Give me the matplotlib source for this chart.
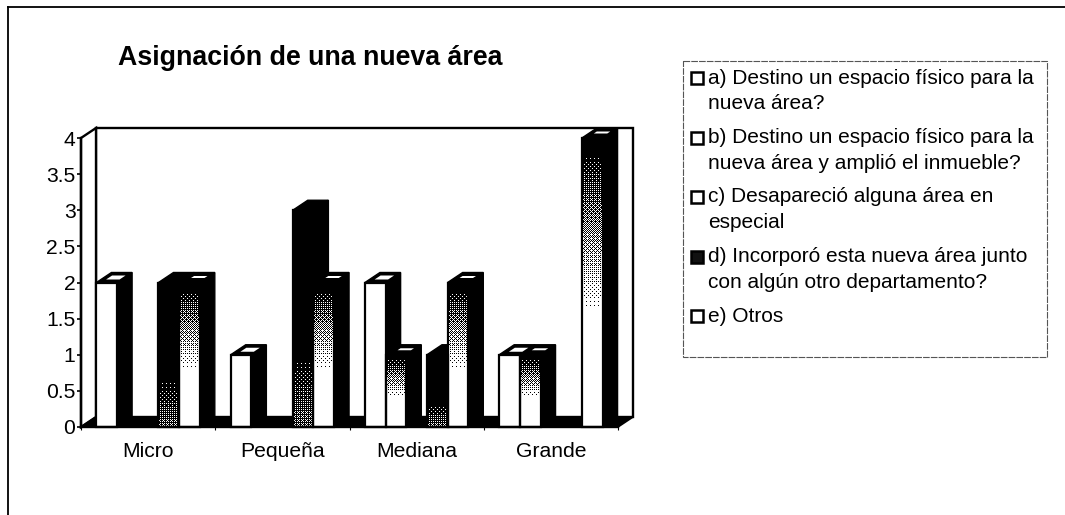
import numpy as np
import matplotlib
matplotlib.use("Agg")
import matplotlib.pyplot as plt
from matplotlib.patches import Polygon, Rectangle
from matplotlib.lines import Line2D

plt.rcParams['font.family'] = ['Liberation Sans', 'DejaVu Sans']

# ---------- data ----------
title = "Asignación de una nueva área"
categories = ["Micro", "Pequeña", "Mediana", "Grande"]
serie_a = [2, 1, 2, 1]
serie_b = [0, 0, 1, 1]
serie_c = [0, 0, 0, 0]
serie_d = [2, 3, 1, 0]
serie_e = [2, 2, 2, 4]
y_ticks = [0, 0.5, 1, 1.5, 2, 2.5, 3, 3.5, 4]
y_tick_labels = ["0", "0.5", "1", "1.5", "2", "2.5", "3", "3.5", "4"]
legend_lines = [
    ["a) Destino un espacio físico para la", "nueva área?"],
    ["b) Destino un espacio físico para la", "nueva área y amplió el inmueble?"],
    ["c) Desapareció alguna área en", "especial"],
    ["d) Incorporó esta nueva área junto", "con algún otro departamento?"],
    ["e) Otros"],
]

W, H = 1065, 515
fig = plt.figure(figsize=(W / 100, H / 100), dpi=100, facecolor="white")

def px_rect(l, t, r, b):
    return [l / W, 1 - b / H, (r - l) / W, (b - t) / H]

ax = fig.add_axes(px_rect(81, 138, 618, 427))
ax.set_xlim(0, 4)
ax.set_ylim(0, 4)
ax.patch.set_visible(False)
DX = 15 / (537 / 4)
DY = 10 / (289 / 4)
BW = 0.154
GROUP_PAD = 0.115

BAYER = np.array([[0, 8, 2, 10], [12, 4, 14, 6], [3, 11, 1, 9], [15, 7, 13, 5]]) / 16 + 1 / 32

def dither(levels, width_cells):
    rows = len(levels)
    yy, xx = np.mgrid[0:rows, 0:width_cells]
    return (levels[:, None] > BAYER[yy % 4, xx % 4]).astype(float)

def face(x0, x1, val, kind):
    """Front face of a bar. levels run from top row to bottom row, 1 = white."""
    hpx = max(int(val * 72.25), 2)
    t = np.linspace(0, 1, hpx)
    if kind == "top_dark":
        levels = np.clip((t - 0.06) / 0.54, 0, 1)
        levels = np.where(t < 0.06, 0.0, 0.06 + 0.94 * levels)
    elif kind == "bottom_speckle":
        levels = np.clip((t - 0.66) / 0.34, 0, 1) * 0.35
    else:
        levels = np.ones_like(t)
    img = dither(levels, 21)
    ax.imshow(img, extent=(x0, x1, 0, val), cmap="gray", vmin=0, vmax=1,
              interpolation="nearest", aspect="auto", zorder=5, clip_on=False)
    ax.add_patch(Rectangle((x0, 0), x1 - x0, val, fill=False, ec="black", lw=1.6,
                           zorder=6, clip_on=False))

def bar3d(x0, val, kind, order):
    x1 = x0 + BW
    # side face
    ax.add_patch(Polygon([(x1, 0), (x1 + DX, DY), (x1 + DX, val + DY), (x1, val)],
                         closed=True, fc="black", ec="black", lw=1.0, zorder=4, clip_on=False))
    # top face
    ax.add_patch(Polygon([(x0, val), (x0 + DX, val + DY), (x1 + DX, val + DY), (x1, val)],
                         closed=True, fc="black", ec="black", lw=1.0, zorder=4, clip_on=False))
    if kind == "plain":
        a, b = .3, .7
    elif kind == "top_dark":
        a, b = .45, .65
    else:
        a, b = None, None
    if a is not None:
        ax.add_patch(Polygon([(x0 + BW * .25 + DX * a, val + DY * a), (x0 + BW * .25 + DX * b, val + DY * b),
                              (x1 - BW * .1 + DX * b, val + DY * b), (x1 - BW * .1 + DX * a, val + DY * a)],
                             closed=True, fc="white", ec="none", zorder=4.5, clip_on=False))
    face(x0, x1, val, kind)

# back wall, left wall, right wall, floor
ax.add_patch(Polygon([(DX, DY), (4 + DX, DY), (4 + DX, 4 + DY), (DX, 4 + DY)], closed=True,
                     fc="white", ec="black", lw=1.7, zorder=1, clip_on=False))
ax.add_patch(Polygon([(0, 0), (DX, DY), (DX, 4 + DY), (0, 4)], closed=True,
                     fc="white", ec="black", lw=1.7, zorder=1, clip_on=False))
ax.add_patch(Polygon([(0, 0), (4, 0), (4 + DX, DY), (DX, DY)], closed=True,
                     fc="black", ec="black", lw=1.2, zorder=2, clip_on=False))

series = [(serie_a, "plain"), (serie_b, "top_dark"), (serie_c, "plain"),
          (serie_d, "bottom_speckle"), (serie_e, "top_dark")]
for g in range(len(categories)):
    for s, (vals, kind) in enumerate(series):
        if vals[g] > 0:
            bar3d(g + GROUP_PAD + s * BW, vals[g], kind, s)

ax.set_xlim(0, 4)
ax.set_ylim(0, 4)
ax.set_xticks([0, 1, 2, 3, 4], [""] * 5)
ax.set_xticks(np.arange(len(categories)) + 0.5, categories, minor=True, fontsize=15.2)
ax.tick_params(axis="x", which="minor", length=0, pad=11)
ax.tick_params(axis="x", which="major", length=2.5, width=0.8, color="black")
ax.set_yticks(y_ticks, y_tick_labels, fontsize=15.2)
ax.tick_params(axis="y", length=3, width=1.2, pad=1)
for name, sp in ax.spines.items():
    sp.set_visible(name in ("left", "bottom"))
    sp.set_linewidth(1.7)
    sp.set_zorder(7)

# full-figure overlay in pixel coordinates for frame, title and legend
ov = fig.add_axes([0, 0, 1, 1], zorder=10)
ov.set_xlim(0, W)
ov.set_ylim(H, 0)
ov.axis("off")
ov.add_line(Line2D([8, W], [6.5, 6.5], color="black", lw=1.3))
ov.add_line(Line2D([8, 8], [6.5, H], color="black", lw=1.3))
ov.text(118, 58, title, fontsize=19.3, fontweight="bold", ha="left", va="center")

ov.add_patch(Rectangle((683, 61), 364, 296, fc="white", ec="#555555", lw=0.8, ls=(0, (6, 1))))
swatches = ["white", "white", "white", "#111111", "white"]
line_h = 25.7
y = 78
for lines, sw in zip(legend_lines, swatches):
    ov.add_patch(Rectangle((691, y - 6), 12, 12, fc=sw, ec="black", lw=1.8))
    for i, ln in enumerate(lines):
        ov.text(708.5, y + i * line_h, ln, fontsize=15.0, ha="left", va="center")
    y += 59.5

fig.savefig("out.png", dpi=100)
